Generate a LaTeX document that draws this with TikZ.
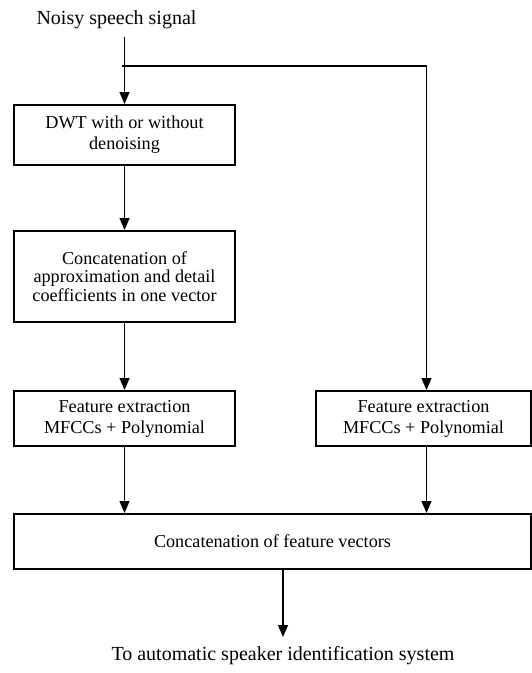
\documentclass[tikz,border=0pt]{standalone}
\usepackage{fontspec}
\setmainfont{Liberation Serif}
\usetikzlibrary{arrows.meta}

\begin{document}
\begin{tikzpicture}[
  block/.style={draw=black, line width=2pt, align=center, inner sep=0pt, font=\fontsize{18.2}{21}\selectfont},
  caption/.style={inner sep=0pt, anchor=base, font=\fontsize{20}{24}\selectfont},
  flow/.style={line width=1.2pt, color=black, -{Triangle[width=10pt, length=12pt]}},
  wire/.style={line width=1.2pt, color=black}]
\useasboundingbox (0pt, 0pt) rectangle (532pt, -673pt);
\node (src) [caption] at (116.5pt, -24.4pt) {Noisy speech signal};
\coordinate (tap) at (124.5pt, -36.6pt);
\coordinate (split) at (122pt, -66pt);
\coordinate (branch) at (426.5pt, -66pt);
\node (dwt) [block, minimum width=221pt, minimum height=60pt] at (124.5pt, -135pt) {DWT with or without\\denoising};
\node (concat) [block, minimum width=221pt, minimum height=91pt, font=\fontsize{18.2}{18.5}\selectfont] at (124.5pt, -276.5pt) {Concatenation of\\approximation and detail\\coefficients in one vector};
\node (featL) [block, minimum width=221pt, minimum height=55pt] at (124.5pt, -418.5pt) {Feature extraction\\MFCCs + Polynomial};
\node (featR) [block, minimum width=215pt, minimum height=55pt] at (423.5pt, -418.5pt) {Feature extraction\\MFCCs + Polynomial};
\node (fuse) [block, minimum width=517pt, minimum height=55pt] at (272.5pt, -541.5pt) {Concatenation of feature vectors};
\coordinate (sink) at (283pt, -637pt);
\node (dest) [caption] at (283pt, -660pt) {To automatic speaker identification system};
\draw [flow] (tap) to (dwt.north);
\draw [wire] (split) to (branch);
\draw [flow] (branch) to (branch |- featR.north);
\draw [flow] (dwt.south) to (concat.north);
\draw [flow] (concat.south) to (featL.north);
\draw [flow] (featL.south) to (featL.south |- fuse.north);
\draw [flow] (featR.south -| branch) to (branch |- fuse.north);
\draw [flow] (fuse.south -| sink) to (sink);
\end{tikzpicture}
\end{document}
